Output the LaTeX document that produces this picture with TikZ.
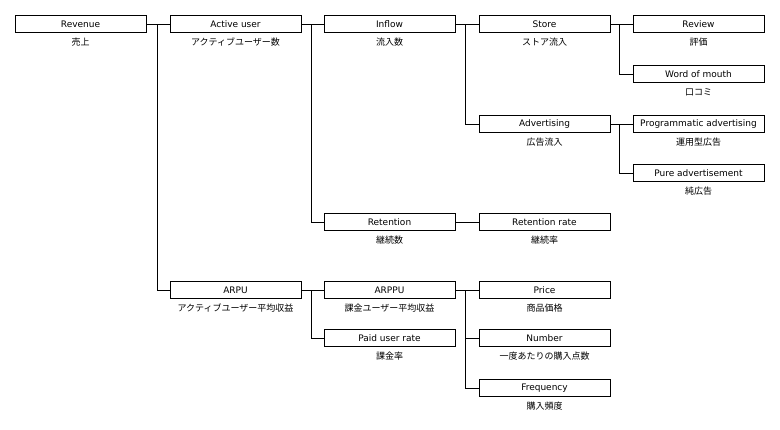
\documentclass[tikz,border=0pt]{standalone}
\usepackage{fontspec}
\setmainfont{DejaVu Sans}
\newfontfamily\jp{Noto Sans CJK JP}
\usetikzlibrary{positioning,calc}
\begin{document}
\begin{tikzpicture}[x=1pt,y=-1pt,
  box/.style={draw=black, line width=1pt, minimum width=131pt, minimum height=17pt, inner sep=0pt, font=\fontsize{9}{10}\selectfont},
  sub/.style={inner sep=0pt, font=\jp\fontsize{9}{10}\selectfont},
  conn/.style={line width=1.1pt}]
\useasboundingbox[fill=white] (0,0) rectangle (780,430);
% column 1
\node[box] (rev) at (80.5,24.5) {Revenue};
% column 2
\node[box] (au) at (235.5,24.5) {Active user};
\node[box] (arpu) at (235.5,290.5) {ARPU};
% column 3
\node[box] (inf) at (389.5,24.5) {Inflow};
\node[box] (ret) at (389.5,222.5) {Retention};
\node[box] (arppu) at (389.5,290.5) {ARPPU};
\node[box] (pur) at (389.5,338.5) {Paid user rate};
% column 4
\node[box] (sto) at (544.5,24.5) {Store};
\node[box] (adv) at (544.5,124.5) {Advertising};
\node[box] (rr) at (544.5,222.5) {Retention rate};
\node[box] (pri) at (544.5,290.5) {Price};
\node[box] (num) at (544.5,338.5) {Number};
\node[box] (fre) at (544.5,388.5) {Frequency};
% column 5
\node[box] (rev5) at (698.5,24.5) {Review};
\node[box] (wom) at (698.5,74.5) {Word of mouth};
\node[box] (prog) at (698.5,124.5) {Programmatic advertising};
\node[box] (pure) at (698.5,173.5) {Pure advertisement};
% subtitles
\foreach \n/\t in {rev/売上, au/アクティブユーザー数, arpu/アクティブユーザー平均収益,
  inf/流入数, ret/継続数, arppu/課金ユーザー平均収益, pur/課金率,
  sto/ストア流入, adv/広告流入, rr/継続率, pri/商品価格, num/一度あたりの購入点数, fre/購入頻度,
  rev5/評価, wom/口コミ, prog/運用型広告, pure/純広告}
  \node[sub, below=4.5pt of \n] (\n-s) {\t};
% junctions
\coordinate (j1) at (157.5,24.5);
\coordinate (j2) at (311.5,24.5);
\coordinate (j3) at (311.5,290.5);
\coordinate (j4) at (465.5,24.5);
\coordinate (j5) at (465.5,290.5);
\coordinate (j6) at (619.5,24.5);
\coordinate (j7) at (619.5,124.5);
% connectors
\draw[conn] (rev.east) -- (au.west);
\draw[conn] (j1) |- (arpu.west);
\draw[conn] (au.east) -- (inf.west);
\draw[conn] (j2) |- (ret.west);
\draw[conn] (arpu.east) -- (arppu.west);
\draw[conn] (j3) |- (pur.west);
\draw[conn] (inf.east) -- (sto.west);
\draw[conn] (j4) |- (adv.west);
\draw[conn] (ret.east) -- (rr.west);
\draw[conn] (arppu.east) -- (pri.west);
\draw[conn] (j5) |- (fre.west);
\draw[conn] (j5 |- num.west) -- (num.west);
\draw[conn] (sto.east) -- (rev5.west);
\draw[conn] (j6) |- (wom.west);
\draw[conn] (adv.east) -- (prog.west);
\draw[conn] (j7) |- (pure.west);
\end{tikzpicture}
\end{document}
